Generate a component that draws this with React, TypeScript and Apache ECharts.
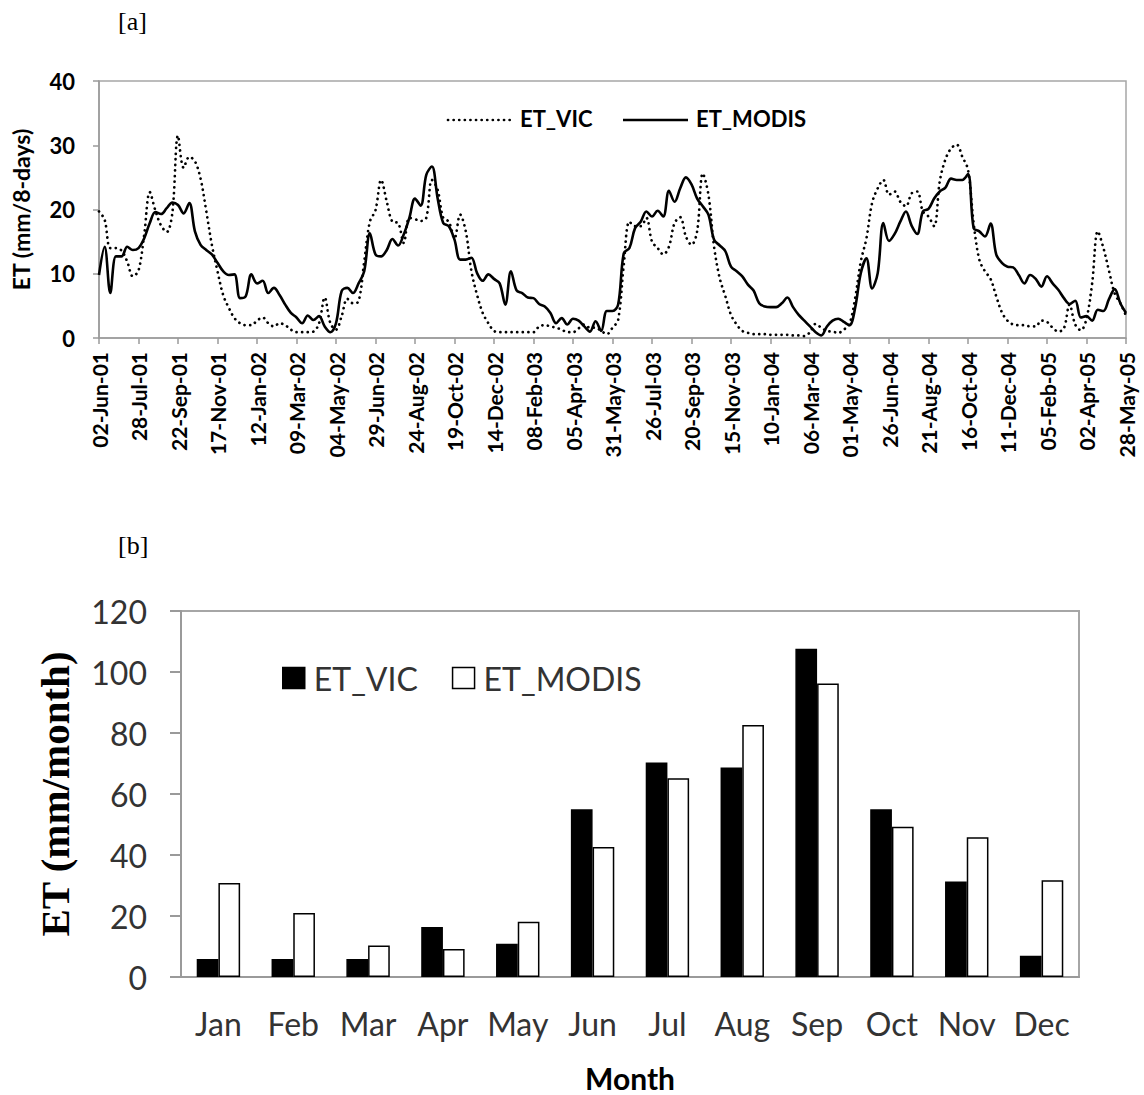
import React, { useEffect, useRef } from "react";
import * as echarts from "echarts";

// Panel [a]: 8-day evapotranspiration, one value every 8 days from 02-Jun-01
const START_DATE = "2001-06-02";
const STEP_DAYS = 8;
const MONTH_ABBR = ["Jan", "Feb", "Mar", "Apr", "May", "Jun", "Jul", "Aug", "Sep", "Oct", "Nov", "Dec"];

const ET_VIC_8DAY = [
  19.7, 18.4, 14.0, 14.0, 13.6, 11.9, 9.6, 10.5, 16.0, 22.7,
  19.8, 17.5, 16.5, 19.5, 31.5, 26.5, 28.2, 27.5, 24.8, 19.8,
  14.5, 10.4, 6.7, 4.7, 3.1, 2.3, 2.0, 2.0, 2.7, 3.2,
  2.3, 1.8, 2.3, 2.0, 1.3, 0.9, 0.9, 0.9, 1.0, 2.3,
  6.3, 2.3, 1.3, 3.4, 6.1, 5.4, 5.7, 11.9, 18.1, 19.9,
  24.6, 21.2, 18.1, 17.9, 14.8, 18.7, 18.5, 18.2, 18.7, 24.6,
  23.1, 18.7, 18.1, 15.5, 19.2, 16.6, 10.4, 6.7, 3.9, 2.3,
  1.1, 0.9, 0.9, 0.9, 0.9, 0.9, 0.9, 0.9, 1.8, 2.0,
  1.8, 1.6, 1.3, 0.9, 0.9, 1.5, 2.1, 1.6, 1.6, 1.1,
  0.6, 1.6, 2.8, 11.4, 18.1, 17.4, 17.4, 18.7, 15.0, 14.0,
  13.0, 14.2, 17.9, 18.8, 15.8, 14.5, 16.6, 25.6, 22.3, 14.2,
  9.3, 6.5, 3.6, 2.1, 1.1, 0.8, 0.6, 0.6, 0.6, 0.5,
  0.5, 0.5, 0.5, 0.4, 0.4, 0.3, 0.9, 2.2, 1.6, 1.1,
  1.0, 0.8, 1.3, 2.2, 6.2, 11.9, 15.5, 21.0, 23.3, 24.6,
  22.3, 22.8, 21.2, 20.5, 22.5, 22.8, 19.7, 18.9, 17.4, 24.4,
  27.8, 29.5, 30.1, 28.2, 26.2, 17.9, 12.2, 10.4, 9.2, 6.5,
  4.0, 2.7, 2.1, 2.0, 2.0, 1.8, 1.8, 2.7, 2.5, 1.6,
  1.0, 1.5, 5.2, 2.1, 1.2, 3.0, 8.5, 16.6, 14.0, 10.4,
  6.9, 5.4, 3.5,
];

const ET_MODIS_8DAY = [
  9.8, 14.2, 7.0, 12.7, 12.7, 14.2, 13.7, 14.0, 15.5, 17.9,
  19.6, 19.3, 20.2, 21.1, 20.7, 19.4, 21.0, 16.6, 14.5, 13.7,
  13.0, 11.7, 10.4, 9.8, 9.9, 6.2, 6.5, 9.9, 8.5, 8.9,
  7.0, 7.8, 6.7, 5.2, 3.9, 3.2, 2.3, 3.5, 2.8, 3.4,
  1.8, 0.9, 2.3, 7.3, 7.8, 7.0, 8.5, 10.4, 16.3, 13.0,
  12.7, 13.7, 15.4, 14.4, 16.1, 18.7, 21.7, 20.6, 25.4, 26.7,
  21.8, 17.9, 17.4, 15.3, 12.2, 12.2, 12.5, 10.1, 8.9, 9.9,
  9.2, 8.5, 5.2, 10.4, 7.4, 7.0, 6.3, 6.2, 5.3, 4.9,
  3.9, 2.3, 3.1, 2.1, 3.0, 2.7, 1.8, 1.0, 2.6, 1.1,
  4.2, 4.2, 5.2, 13.2, 14.0, 17.1, 18.1, 19.7, 18.9, 19.8,
  18.9, 22.9, 21.2, 23.3, 25.0, 23.9, 21.7, 20.5, 19.2, 15.3,
  14.4, 13.5, 11.1, 10.4, 9.6, 8.3, 7.4, 5.4, 4.9, 4.8,
  4.8, 5.4, 6.3, 4.8, 3.6, 2.7, 1.8, 0.9, 0.4, 1.8,
  2.7, 3.0, 2.5, 2.0, 4.7, 10.1, 12.4, 7.7, 10.1, 17.9,
  15.1, 16.2, 18.1, 19.7, 17.5, 16.2, 19.7, 20.1, 21.7, 22.8,
  23.4, 24.8, 24.6, 24.6, 25.5, 17.1, 16.6, 15.8, 17.8, 13.0,
  11.7, 11.1, 11.0, 9.8, 8.5, 9.8, 9.2, 8.0, 9.6, 8.5,
  7.5, 6.2, 5.3, 5.8, 3.2, 3.4, 2.7, 4.4, 4.2, 6.1,
  7.6, 5.4, 3.9,
];

// Panel [b]: monthly evapotranspiration
const MONTHS = ["Jan", "Feb", "Mar", "Apr", "May", "Jun", "Jul", "Aug", "Sep", "Oct", "Nov", "Dec"];
const ET_VIC_MONTHLY = [5.9, 5.9, 5.9, 16.4, 10.9, 55.0, 70.3, 68.7, 107.6, 55.0, 31.3, 7.0];
const ET_MODIS_MONTHLY = [30.8, 21.0, 10.3, 9.2, 18.1, 42.6, 65.2, 82.6, 96.2, 49.3, 45.8, 31.7];

const SERIES_NAMES = ["ET_VIC", "ET_MODIS"];

function formatDate(d: Date): string {
  const dd = String(d.getUTCDate()).padStart(2, "0");
  const yy = String(d.getUTCFullYear() % 100).padStart(2, "0");
  return `${dd}-${MONTH_ABBR[d.getUTCMonth()]}-${yy}`;
}

function buildDates(count: number): string[] {
  const start = new Date(START_DATE + "T00:00:00Z").getTime();
  const out: string[] = [];
  for (let i = 0; i < count; i++) {
    out.push(formatDate(new Date(start + i * STEP_DAYS * 86400000)));
  }
  return out;
}

const AXIS_GRAY = "#9a9a9a";
const SANS = "Lato, 'Open Sans', sans-serif";
const SERIF = "'Liberation Serif', 'DejaVu Serif', serif";

export default function App() {
  const ref = useRef<HTMLDivElement>(null);

  useEffect(() => {
    if (!ref.current) return;
    const chart = echarts.init(ref.current, undefined, { renderer: "svg" });
    const dates = buildDates(ET_VIC_8DAY.length);

    const option: any = {
      animation: false,
      backgroundColor: "#ffffff",
      graphic: [
        { type: "text", left: 118, top: 8, style: { text: "[a]", font: `26px ${SERIF}`, fill: "#000" } },
        { type: "text", left: 118, top: 532, style: { text: "[b]", font: `26px ${SERIF}`, fill: "#000" } },
        // legend of panel [a]
        {
          type: "line",
          shape: { x1: 448, y1: 120, x2: 511, y2: 120 },
          style: { stroke: "#000", lineWidth: 2.7, lineDash: [0.1, 5.5], lineCap: "round" },
        },
        { type: "text", left: 520, top: 107, style: { text: "ET_VIC", font: `bold 22px ${SANS}`, fill: "#000" } },
        {
          type: "line",
          shape: { x1: 623, y1: 120, x2: 688, y2: 120 },
          style: { stroke: "#000", lineWidth: 2.6 },
        },
        { type: "text", left: 696, top: 107, style: { text: "ET_MODIS", font: `bold 22px ${SANS}`, fill: "#000" } },
      ],
      legend: [
        {
          data: [
            { name: SERIES_NAMES[0], itemStyle: { color: "#000", borderColor: "#000", borderWidth: 1.5 } },
            { name: SERIES_NAMES[1], itemStyle: { color: "#fff", borderColor: "#000", borderWidth: 1.5 } },
          ],
          left: 277,
          top: 657,
          icon: "rect",
          itemWidth: 22,
          itemHeight: 21,
          itemGap: 34,
          textStyle: { fontFamily: SANS, fontSize: 32, color: "#333", padding: [0, 0, 0, 4] },
          seriesIndex: [2, 3],
        },
      ],
      grid: [
        { left: 99, top: 81, width: 1027, height: 257, show: true, borderColor: "#a6a6a6", borderWidth: 1.5 },
        { left: 181, top: 611, width: 898, height: 366, show: true, borderColor: "#a6a6a6", borderWidth: 2 },
      ],
      xAxis: [
        {
          type: "category",
          gridIndex: 0,
          data: dates,
          boundaryGap: false,
          axisLine: { lineStyle: { color: AXIS_GRAY, width: 1.5 } },
          axisTick: { show: true, interval: 6, length: 6, lineStyle: { color: AXIS_GRAY, width: 1.5 } },
          axisLabel: {
            interval: 6,
            rotate: 90,
            margin: 14,
            fontFamily: SANS,
            fontWeight: "bold",
            fontSize: 21,
            color: "#000",
          },
          splitLine: { show: false },
        },
        {
          type: "category",
          gridIndex: 1,
          data: MONTHS,
          name: "Month",
          nameLocation: "middle",
          nameGap: 86,
          nameTextStyle: { fontFamily: SANS, fontWeight: "bold", fontSize: 30, lineHeight: 30, color: "#000" },
          axisLine: { lineStyle: { color: AXIS_GRAY, width: 2 } },
          axisTick: { show: false },
          axisLabel: { interval: 0, margin: 30, fontFamily: SANS, fontSize: 32, color: "#333" },
        },
      ],
      yAxis: [
        {
          type: "value",
          gridIndex: 0,
          min: 0,
          max: 40,
          interval: 10,
          name: "ET (mm/8-days)",
          nameLocation: "middle",
          nameRotate: 90,
          nameGap: 67,
          nameTextStyle: { fontFamily: SANS, fontWeight: "bold", fontSize: 23, color: "#000" },
          axisLine: { show: true, lineStyle: { color: AXIS_GRAY, width: 1.5 } },
          axisTick: { show: true, length: 6, lineStyle: { color: AXIS_GRAY, width: 1.5 } },
          axisLabel: { margin: 24, fontFamily: SANS, fontWeight: "bold", fontSize: 22, color: "#000" },
          splitLine: { show: false },
        },
        {
          type: "value",
          gridIndex: 1,
          min: 0,
          max: 120,
          interval: 20,
          name: "ET (mm/month)",
          nameLocation: "middle",
          nameRotate: 90,
          nameGap: 106,
          nameTextStyle: { fontFamily: SERIF, fontWeight: "bold", fontSize: 41, color: "#000" },
          axisLine: { show: true, lineStyle: { color: AXIS_GRAY, width: 2 } },
          axisTick: { show: true, length: 11, lineStyle: { color: AXIS_GRAY, width: 2 } },
          axisLabel: { margin: 34, fontFamily: SANS, fontSize: 32, color: "#333" },
          splitLine: { show: false },
        },
      ],
      series: [
        {
          name: SERIES_NAMES[0],
          type: "line",
          xAxisIndex: 0,
          yAxisIndex: 0,
          data: ET_VIC_8DAY,
          smooth: 0.35,
          symbol: "none",
          lineStyle: { color: "#000", width: 2.7, type: [0.1, 5.5], cap: "round" },
        },
        {
          name: SERIES_NAMES[1],
          type: "line",
          xAxisIndex: 0,
          yAxisIndex: 0,
          data: ET_MODIS_8DAY,
          smooth: 0.35,
          symbol: "none",
          lineStyle: { color: "#000", width: 2.6 },
        },
        {
          name: SERIES_NAMES[0],
          type: "bar",
          xAxisIndex: 1,
          yAxisIndex: 1,
          data: ET_VIC_MONTHLY,
          barGap: "0%",
          barCategoryGap: "42%",
          itemStyle: { color: "#000", borderColor: "#000", borderWidth: 1.5 },
        },
        {
          name: SERIES_NAMES[1],
          type: "bar",
          xAxisIndex: 1,
          yAxisIndex: 1,
          data: ET_MODIS_MONTHLY,
          itemStyle: { color: "#fff", borderColor: "#000", borderWidth: 1.5 },
        },
      ],
    };

    chart.setOption(option);
    return () => chart.dispose();
  }, []);

  return (
    <div
      ref={ref}
      style={{ position: "fixed", left: 0, top: 0, width: 1144, height: 1095, background: "#fff" }}
    />
  );
}
